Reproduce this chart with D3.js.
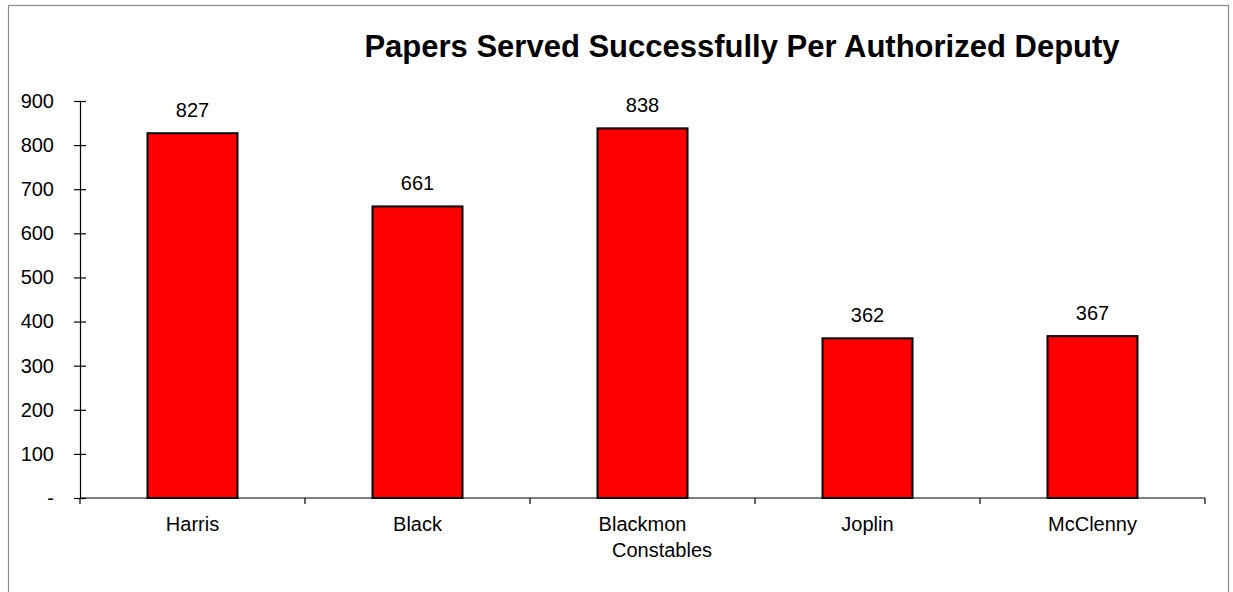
<!DOCTYPE html>
<html>
<head>
<meta charset="utf-8">
<script src="https://cdn.jsdelivr.net/npm/d3@7"></script>
<style>
  html, body { margin: 0; padding: 0; background: #fff; }
  svg { display: block; font-family: "Liberation Sans", Arial, sans-serif; }
</style>
</head>
<body>
<svg id="chart" width="1233" height="592"></svg>
<script>
// Constable offices and papers served per authorized deputy
const categories = ["Harris", "Black", "Blackmon", "Joplin", "McClenny"];
const values = [827, 661, 838, 362, 367];
const yTicks = [0, 100, 200, 300, 400, 500, 600, 700, 800, 900];
const titleText = "Papers Served Successfully Per Authorized Deputy";
const axisTitle = "Constables";

const svg = d3.select("#chart");
const labelSize = 20;

// outer chart frame
svg.append("rect")
  .attr("x", 8.5).attr("y", 5.5)
  .attr("width", 1220).attr("height", 600)
  .attr("fill", "#fff").attr("stroke", "#8c8c8c").attr("stroke-width", 1.2);

const plot = { left: 80, right: 1205, top: 101, bottom: 498 };

const x = d3.scaleBand()
  .domain(categories)
  .range([plot.left, plot.right])
  .paddingInner(0.6).paddingOuter(0.3);

const y = d3.scaleLinear().domain([0, 900]).range([plot.bottom, plot.top]);

// y axis
const yAxis = d3.axisLeft(y)
  .tickValues(yTicks)
  .tickSize(0)
  .tickPadding(26)
  .tickFormat(d => d === 0 ? "-" : d3.format("d")(d));
const gy = svg.append("g").attr("transform", `translate(${plot.left},0)`).call(yAxis);
gy.select(".domain").attr("stroke", "#000").attr("stroke-width", 1.2);
gy.selectAll(".tick text").attr("font-size", labelSize).attr("fill", "#000");
gy.selectAll(".tick").append("line")
  .attr("x1", -6).attr("x2", 6)
  .attr("stroke", "#000").attr("stroke-width", 1.2);

// category boundary ticks along the x axis
const bounds = d3.range(categories.length + 1).map(i => plot.left + i * x.step());
svg.append("line")
  .attr("x1", plot.left).attr("x2", plot.right)
  .attr("y1", y(0)).attr("y2", y(0))
  .attr("stroke", "#000").attr("stroke-width", 1.2);
svg.selectAll(".xbound").data(bounds).join("line")
  .attr("x1", d => d).attr("x2", d => d)
  .attr("y1", y(0)).attr("y2", y(0) + 6)
  .attr("stroke", "#000").attr("stroke-width", 1.2);

// bars
svg.selectAll(".bar").data(values).join("rect")
  .attr("class", "bar")
  .attr("x", (d, i) => x(categories[i]))
  .attr("y", d => y(d))
  .attr("width", x.bandwidth())
  .attr("height", d => y(0) - y(d))
  .attr("fill", "#ff0000")
  .attr("stroke", "#000").attr("stroke-width", 2);

// value labels
svg.selectAll(".vlabel").data(values).join("text")
  .attr("x", (d, i) => x(categories[i]) + x.bandwidth() / 2)
  .attr("y", d => y(d) - 16)
  .attr("text-anchor", "middle")
  .attr("font-size", labelSize)
  .text(d => d);

// category labels
svg.selectAll(".clabel").data(categories).join("text")
  .attr("x", d => x(d) + x.bandwidth() / 2)
  .attr("y", 531)
  .attr("text-anchor", "middle")
  .attr("font-size", labelSize)
  .text(d => d);

// axis title
svg.append("text")
  .attr("x", 662).attr("y", 557)
  .attr("text-anchor", "middle")
  .attr("font-size", labelSize)
  .text(axisTitle);

// chart title
svg.append("text")
  .attr("x", 742).attr("y", 57)
  .attr("text-anchor", "middle")
  .attr("font-size", 31)
  .attr("font-weight", "bold")
  .text(titleText);
</script>
</body>
</html>
